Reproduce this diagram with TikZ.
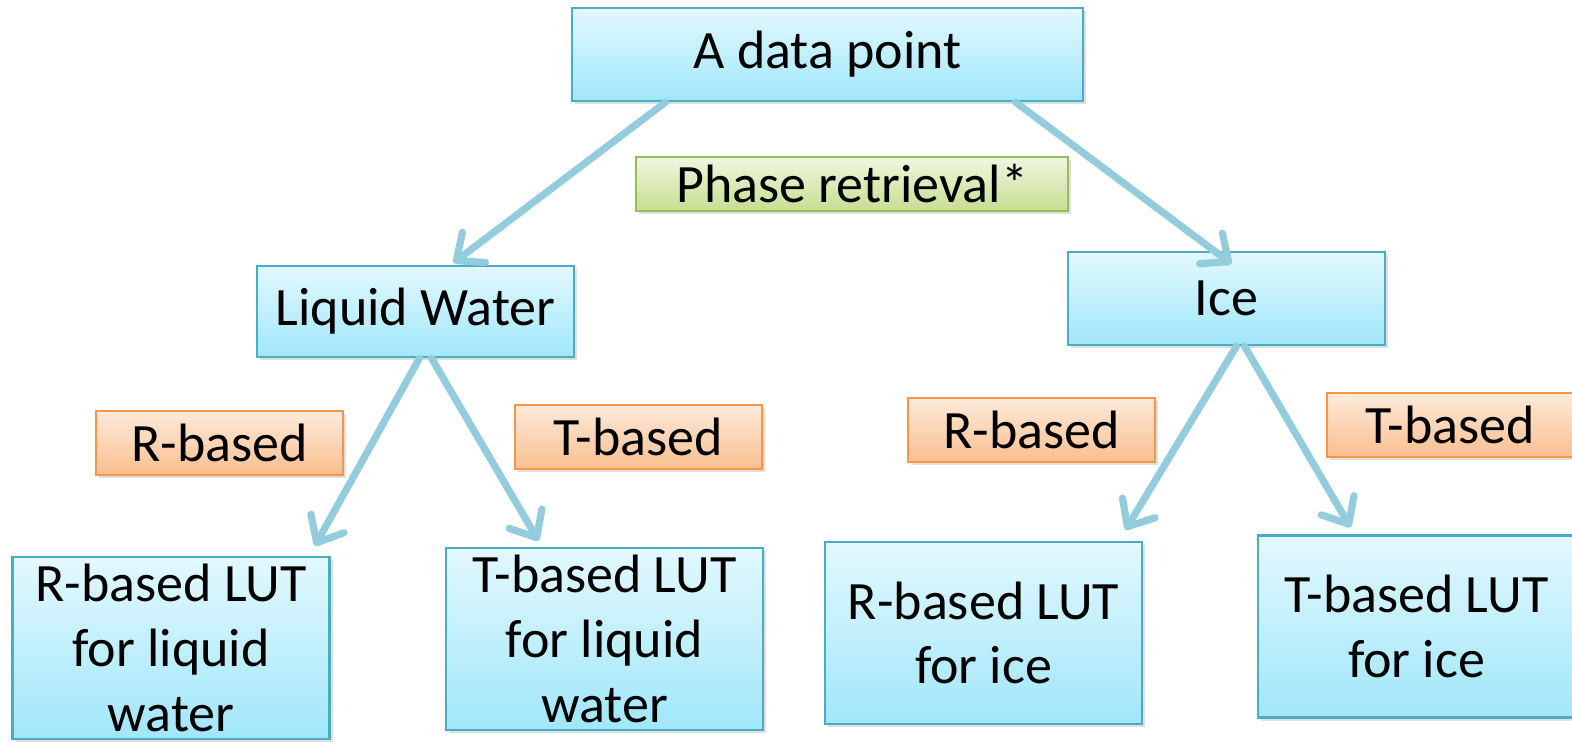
\documentclass[tikz,border=0pt]{standalone}
\usepackage{fontspec}
\setmainfont{Carlito}
\usetikzlibrary{calc,shadows,arrows.meta}
\definecolor{boxtop}{HTML}{E3F8FE}
\definecolor{boxbot}{HTML}{A0E7FA}
\definecolor{boxline}{HTML}{4BACC6}
\definecolor{tagtop}{HTML}{FDEADB}
\definecolor{tagbot}{HTML}{FABF8F}
\definecolor{tagline}{HTML}{F79646}
\definecolor{phasetop}{HTML}{F0F7E2}
\definecolor{phasebot}{HTML}{C6DE90}
\definecolor{phaseline}{HTML}{9BBB59}
\definecolor{arrowblue}{HTML}{93CDDD}
\newcommand{\Px}{0.5pt}
\newcommand{\BoxFont}{\fontsize{27}{32.4}\selectfont}
\tikzset{Box/.style={
    inner sep=0pt,
    align=center,
    draw=boxline,
    line width=1.2pt,
    top color=boxtop,
    bottom color=boxbot,
    font=\BoxFont,
    drop shadow={shadow xshift=1.5pt, shadow yshift=-1.5pt, opacity=0.25},
    },
  Tag/.style={
    Box,
    draw=tagline,
    top color=tagtop,
    bottom color=tagbot,
    minimum width=247*\Px,
    minimum height=64*\Px,
    },
  Lut/.style={
    Box,
    minimum width=317*\Px,
    minimum height=182*\Px,
    },
  Flow/.style={
    draw=arrowblue,
    line width=3.6pt,
    line cap=round,
    -{Straight Barb[length=11pt, width=19pt, round]},
    }
}

\begin{document}
\begin{tikzpicture}[x=\Px, y=-\Px]
    \useasboundingbox (0,0) rectangle (1572,741);
    \clip (0,0) rectangle (1572,741);
    % top and the two phases
    \node [Box, minimum width=511*\Px, minimum height=93*\Px] (point) at (827.5,54.5) {A data point};
    \node [Box, draw=phaseline, top color=phasetop, bottom color=phasebot,
           minimum width=432*\Px, minimum height=54*\Px] (phase) at (852,184) {Phase retrieval*};
    \node [Box, minimum width=317*\Px, minimum height=91*\Px] (liquid) at (415.5,311.5) {Liquid Water};
    \node [Box, minimum width=317*\Px, minimum height=93*\Px] (ice) at (1226.5,298.5) {Ice};
    % R / T labels
    \node [Tag] (rliq) at (219.5,443) {R-based};
    \node [Tag] (tliq) at (638.5,437) {T-based};
    \node [Tag] (rice) at (1031.5,430) {R-based};
    \node [Tag] (tice) at (1450.5,425) {T-based};
    % look-up tables
    \node [Lut] (rlutliq) at (171,648) {R-based LUT\\for liquid\\water};
    \node [Lut] (tlutliq) at (604.5,639) {T-based LUT\\for liquid\\water};
    \node [Lut] (rlutice) at (983.5,633) {R-based LUT\\for ice};
    \node [Lut] (tlutice) at (1416.5,626.5) {T-based LUT\\for ice};
    % arrows
    \draw [Flow] ([xshift=-81pt]point.south) -- ([xshift=19pt, yshift=1pt]liquid.north);
    \draw [Flow] ([xshift=94pt]point.south) -- ([xshift=2.5pt, yshift=-6.5pt]ice.north);
    \draw [Flow] ([xshift=2pt]liquid.south) -- ([xshift=72pt, yshift=5pt]rlutliq.north);
    \draw [Flow] ([xshift=8pt]liquid.south) -- ([xshift=-33pt, yshift=3pt]tlutliq.north);
    \draw [Flow] ([xshift=5pt]ice.south) -- ([xshift=71pt, yshift=5.5pt]rlutice.north);
    \draw [Flow] ([xshift=9pt]ice.south) -- ([xshift=-33pt, yshift=3.5pt]tlutice.north);
\end{tikzpicture}
\end{document}
